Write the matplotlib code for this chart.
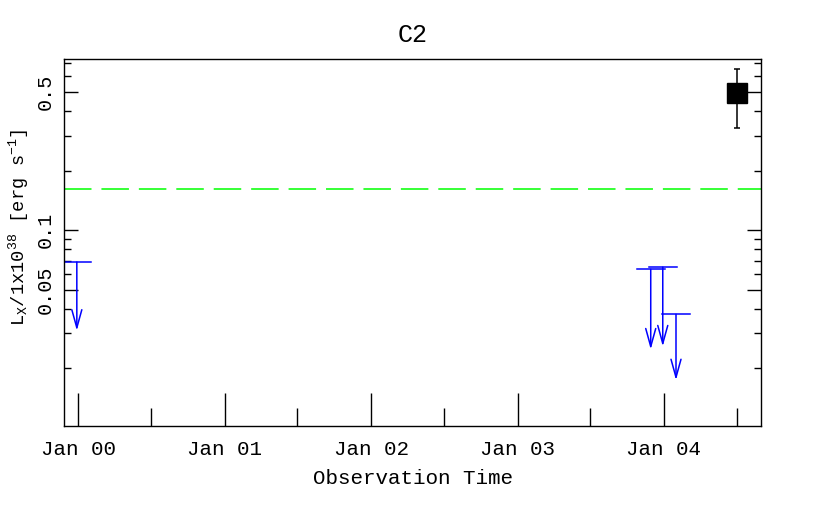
import datetime as dt
import matplotlib
matplotlib.use('Agg')
import matplotlib.pyplot as plt
import matplotlib.dates as mdates
from matplotlib.ticker import FixedLocator, FixedFormatter

# upper limits: date, limit value, lower end of the arrow
lim_dates = [dt.datetime(1999, 12, 29), dt.datetime(2003, 11, 29),
             dt.datetime(2003, 12, 29), dt.datetime(2004, 1, 31)]
lim_values = [0.069, 0.0634, 0.065, 0.0375]
lim_arrow_ends = [0.031, 0.0249, 0.0258, 0.0174]
lim_halfwidth = dt.timedelta(days=35)

# detection
det_dates = [dt.datetime(2004, 7, 1)]
det_values = [0.497]
det_lo = [0.330]
det_hi = [0.654]

threshold = 0.161

yticks_major = [0.05, 0.1, 0.5]
ytick_labels = ['0.05', '0.1', '0.5']
yticks_minor = [0.02, 0.03, 0.04, 0.06, 0.07, 0.08, 0.09, 0.2, 0.3, 0.4, 0.6, 0.7]

mono = 'Liberation Mono'
plt.rcParams['font.family'] = [mono, 'DejaVu Sans']
plt.rcParams['mathtext.fontset'] = 'custom'
plt.rcParams['mathtext.rm'] = mono
plt.rcParams['mathtext.default'] = 'regular'

fig = plt.figure(figsize=(8.3, 5.15), dpi=100)
ax = fig.add_axes([0.0771, 0.1728, 0.8398, 0.7126])

ax.set_yscale('log')
ax.set_ylim(0.0102, 0.735)
ax.set_xlim(dt.datetime(1999, 11, 27), dt.datetime(2004, 8, 30))

# upper limits
for d, v, e in zip(lim_dates, lim_values, lim_arrow_ends):
    ax.plot([d - lim_halfwidth, d + lim_halfwidth], [v, v], color='#0000ff', lw=1.1)
    ax.annotate('', xy=(d, e), xytext=(d, v),
                arrowprops=dict(arrowstyle='->, head_length=0.65, head_width=0.18',
                                mutation_scale=20, color='#0000ff', lw=1.1,
                                shrinkA=0, shrinkB=0))

# detection
yerr = [[v - lo for v, lo in zip(det_values, det_lo)],
        [hi - v for v, hi in zip(det_values, det_hi)]]
ax.errorbar(det_dates, det_values, yerr=yerr, fmt='s', color='black',
            markersize=14.5, elinewidth=1.1, capsize=2.5, capthick=1.1)

ax.axhline(threshold, color='#00ff00', lw=1.1, dashes=(18, 6.5))

# axes styling
for sp in ax.spines.values():
    sp.set_linewidth(1.0)

ax.yaxis.set_major_locator(FixedLocator(yticks_major))
ax.yaxis.set_major_formatter(FixedFormatter(ytick_labels))
ax.yaxis.set_minor_locator(FixedLocator(yticks_minor))
ax.yaxis.set_minor_formatter(FixedFormatter([''] * len(yticks_minor)))
ax.tick_params(axis='y', which='major', direction='in', length=10, width=1,
               left=True, right=True, labelsize=14.5, pad=7, labelrotation=90)
ax.tick_params(axis='y', which='minor', direction='in', length=5, width=1,
               left=True, right=True)
for lbl in ax.get_yticklabels():
    lbl.set_va('center')

ax.xaxis.set_major_locator(mdates.YearLocator())
ax.xaxis.set_minor_locator(mdates.MonthLocator(bymonth=7))
ax.xaxis.set_major_formatter(mdates.DateFormatter('%b %y'))
ax.tick_params(axis='x', which='major', direction='in', length=24, width=1,
               top=False, labelsize=15, pad=10)
ax.tick_params(axis='x', which='minor', direction='in', length=13, width=1,
               top=False)

ax.set_xlabel('Observation Time', fontsize=15, labelpad=7)
ax.set_ylabel(r'L$_{\mathrm{X}}$/1x10$^{38}$ [erg s$^{-1}$]', fontsize=13.5)
ax.yaxis.set_label_coords(-0.048, 0.54)
ax.set_title('C2', fontsize=18, pad=12)

fig.savefig('out.png', dpi=100)
